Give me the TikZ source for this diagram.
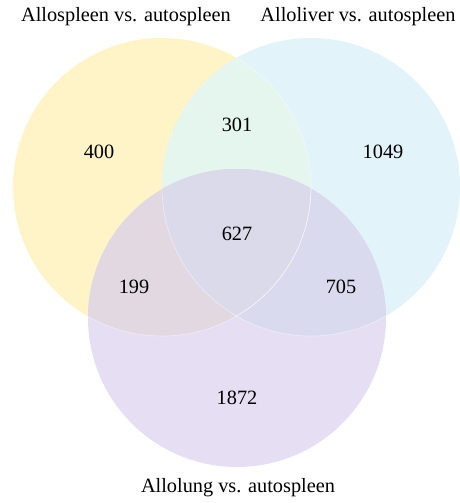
\documentclass[tikz,border=0pt]{standalone}
\usepackage{fontspec}
\setmainfont{Liberation Serif}
\begin{document}
\begin{tikzpicture}[x=1pt,y=-1pt,
  title/.style={font=\fontsize{20.3}{24}\selectfont,text=black},
  count/.style={font=\fontsize{20.3}{24}\selectfont,text=black},
  edge/.style={draw=white,draw opacity=0.5,line width=0.6pt}]
\useasboundingbox (0,0) rectangle (459,503);
\definecolor{cA}{RGB}{255,243,200}
\definecolor{cB}{RGB}{226,243,250}
\definecolor{cC}{RGB}{230,222,242}
\definecolor{cAB}{RGB}{228,246,238}
\definecolor{cAC}{RGB}{226,216,226}
\definecolor{cBC}{RGB}{218,218,238}
\definecolor{cABC}{RGB}{218,218,234}
\coordinate (A) at (162,187);
\coordinate (B) at (311,187);
\coordinate (C) at (237,318);
\def\R{149}
\fill[cA] (A) circle[radius=\R];
\fill[cB] (B) circle[radius=\R];
\fill[cC] (C) circle[radius=\R];
\begin{scope}\clip (A) circle[radius=\R]; \fill[cAB] (B) circle[radius=\R];\end{scope}
\begin{scope}\clip (A) circle[radius=\R]; \fill[cAC] (C) circle[radius=\R];\end{scope}
\begin{scope}\clip (B) circle[radius=\R]; \fill[cBC] (C) circle[radius=\R];\end{scope}
\begin{scope}\clip (A) circle[radius=\R]; \clip (B) circle[radius=\R]; \fill[cABC] (C) circle[radius=\R];\end{scope}
\begin{scope}\clip (B) circle[radius=\R]; \path[edge] (A) circle[radius=\R];\end{scope}
\begin{scope}\clip (C) circle[radius=\R]; \path[edge] (A) circle[radius=\R];\end{scope}
\begin{scope}\clip (C) circle[radius=\R]; \path[edge] (B) circle[radius=\R];\end{scope}
\node[title] (tA) at (126,17) {Allospleen vs. autospleen};
\node[title] (tB) at (358,17) {Alloliver vs. autospleen};
\node[title] (tC) at (238,488) {Allolung vs. autospleen};
\node[count] (nA) at (99,152) {400};
\node[count] (nAB) at (237,125) {301};
\node[count] (nB) at (383,152) {1049};
\node[count] (nABC) at (237,234) {627};
\node[count] (nAC) at (134,287) {199};
\node[count] (nBC) at (341,287) {705};
\node[count] (nC) at (237,398) {1872};
\end{tikzpicture}
\end{document}
